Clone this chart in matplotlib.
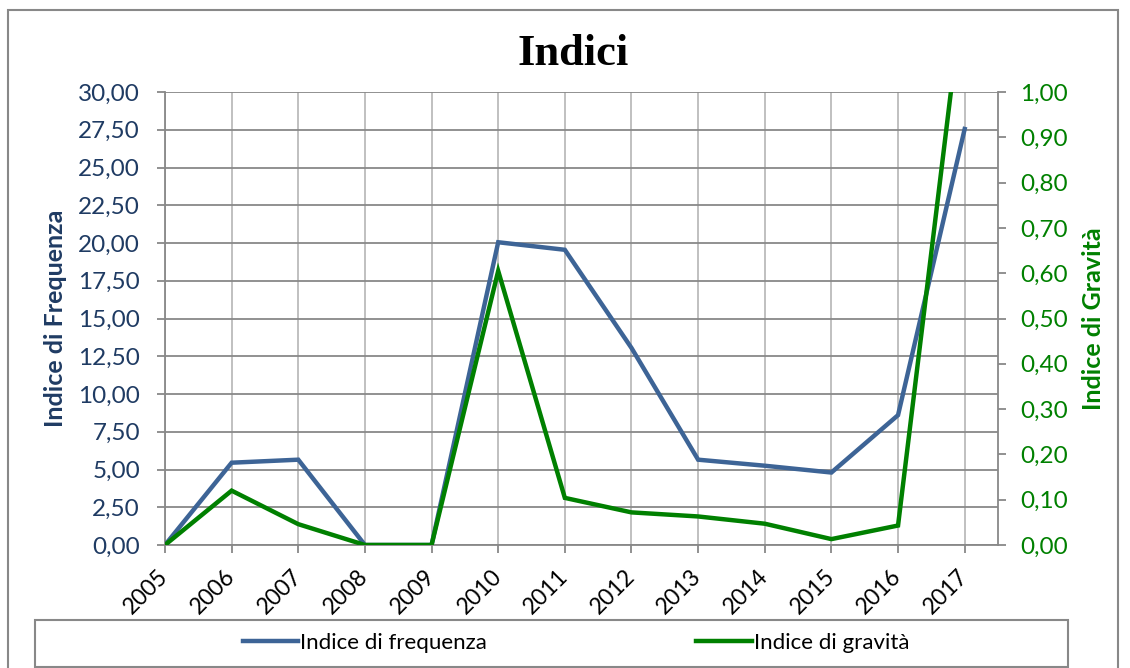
import matplotlib.pyplot as plt
from matplotlib.patches import Rectangle
from matplotlib.ticker import FuncFormatter, MultipleLocator

# dati
anni = ['2005', '2006', '2007', '2008', '2009', '2010', '2011',
        '2012', '2013', '2014', '2015', '2016', '2017']
frequenza = [0.0, 5.45, 5.65, 0.0, 0.0, 20.05, 19.55, 13.05, 5.65, 5.25, 4.8, 8.6, 27.55]
gravita = [0.0, 0.12, 0.046, 0.0, 0.0, 0.605, 0.104, 0.072, 0.063, 0.047, 0.013, 0.043, 1.25]

blu = '#3D6496'
blu_testo = '#1F3B63'
verde = '#008000'
grigio = '#888888'

plt.rcParams['font.family'] = ['Lato', 'DejaVu Sans']


def virgola(v, pos):
    return f"{v:.2f}".replace('.', ',')


fig = plt.figure(figsize=(11.3, 6.68), dpi=100)
ax = fig.add_axes([165/1130, 1-545/668, (998-165)/1130, (545-92)/668])
ax2 = ax.twinx()

x = list(range(len(anni)))
ax.plot(x, frequenza, color=blu, lw=3.2, solid_joinstyle='miter', zorder=3)
ax2.plot(x, gravita, color=verde, lw=3.2, solid_joinstyle='miter', zorder=3)

ax.set_xlim(0, len(anni) - 0.5)
ax.set_ylim(0, 30)
ax2.set_ylim(0, 1)

ax.set_xticks(x)
ax.set_xticklabels(anni, rotation=45, ha='right', va='center', rotation_mode='anchor')
ax.yaxis.set_major_locator(MultipleLocator(2.5))
ax.yaxis.set_major_formatter(FuncFormatter(virgola))
ax2.yaxis.set_major_locator(MultipleLocator(0.1))
ax2.yaxis.set_major_formatter(FuncFormatter(virgola))

ax.grid(axis='y', color=grigio, lw=1.3)
ax.grid(axis='x', color='#BBBBBB', lw=1.3)
ax.set_axisbelow(True)

for a in (ax, ax2):
    a.spines['top'].set_visible(False)
    for s in ('left', 'right', 'bottom'):
        a.spines[s].set_color(grigio)
        a.spines[s].set_linewidth(1.3)
ax.spines['right'].set_visible(False)
ax2.spines['left'].set_visible(False)
ax2.spines['bottom'].set_visible(False)

ax.tick_params(axis='y', colors=grigio, labelcolor=blu_testo, labelsize=17.5,
               length=6, width=1.3, pad=12)
ax.tick_params(axis='x', colors=grigio, labelcolor='black', labelsize=16.5,
               length=6, width=1.3, pad=14)
ax2.tick_params(axis='y', colors=grigio, labelcolor=verde, labelsize=17.5,
                length=6, width=1.3, pad=10)

ax.set_ylabel('Indice di Frequenza', color=blu_testo, fontsize=18,
              fontweight='bold', labelpad=8)
ax2.set_ylabel('Indice di Gravità', color=verde, fontsize=18,
               fontweight='bold', labelpad=10)

fig.text(573/1130, 1-54/668, 'Indici', ha='center', va='center',
         family='Liberation Serif', fontweight='bold', fontsize=32)

# legenda
h1, = ax.plot([], [], color=blu, lw=3.2)
h2, = ax.plot([], [], color=verde, lw=3.2)
fig.legend([h1, h2], ['Indice di frequenza', 'Indice di gravità'],
           loc='center', bbox_to_anchor=(576/1130, 1-643/668), ncol=2,
           frameon=False, fontsize=16, handlelength=2.5, handletextpad=0.1,
           columnspacing=9.4)
fig.patches.append(Rectangle((35/1130, 1-667/668), 1033/1130, 47/668,
                             transform=fig.transFigure, fill=False,
                             edgecolor=grigio, lw=1.5))
fig.patches.append(Rectangle((8/1130, -0.02), 1110/1130, 1-10/668+0.02,
                             transform=fig.transFigure, fill=False,
                             edgecolor=grigio, lw=1.5))

fig.savefig('out.png', dpi=100)
